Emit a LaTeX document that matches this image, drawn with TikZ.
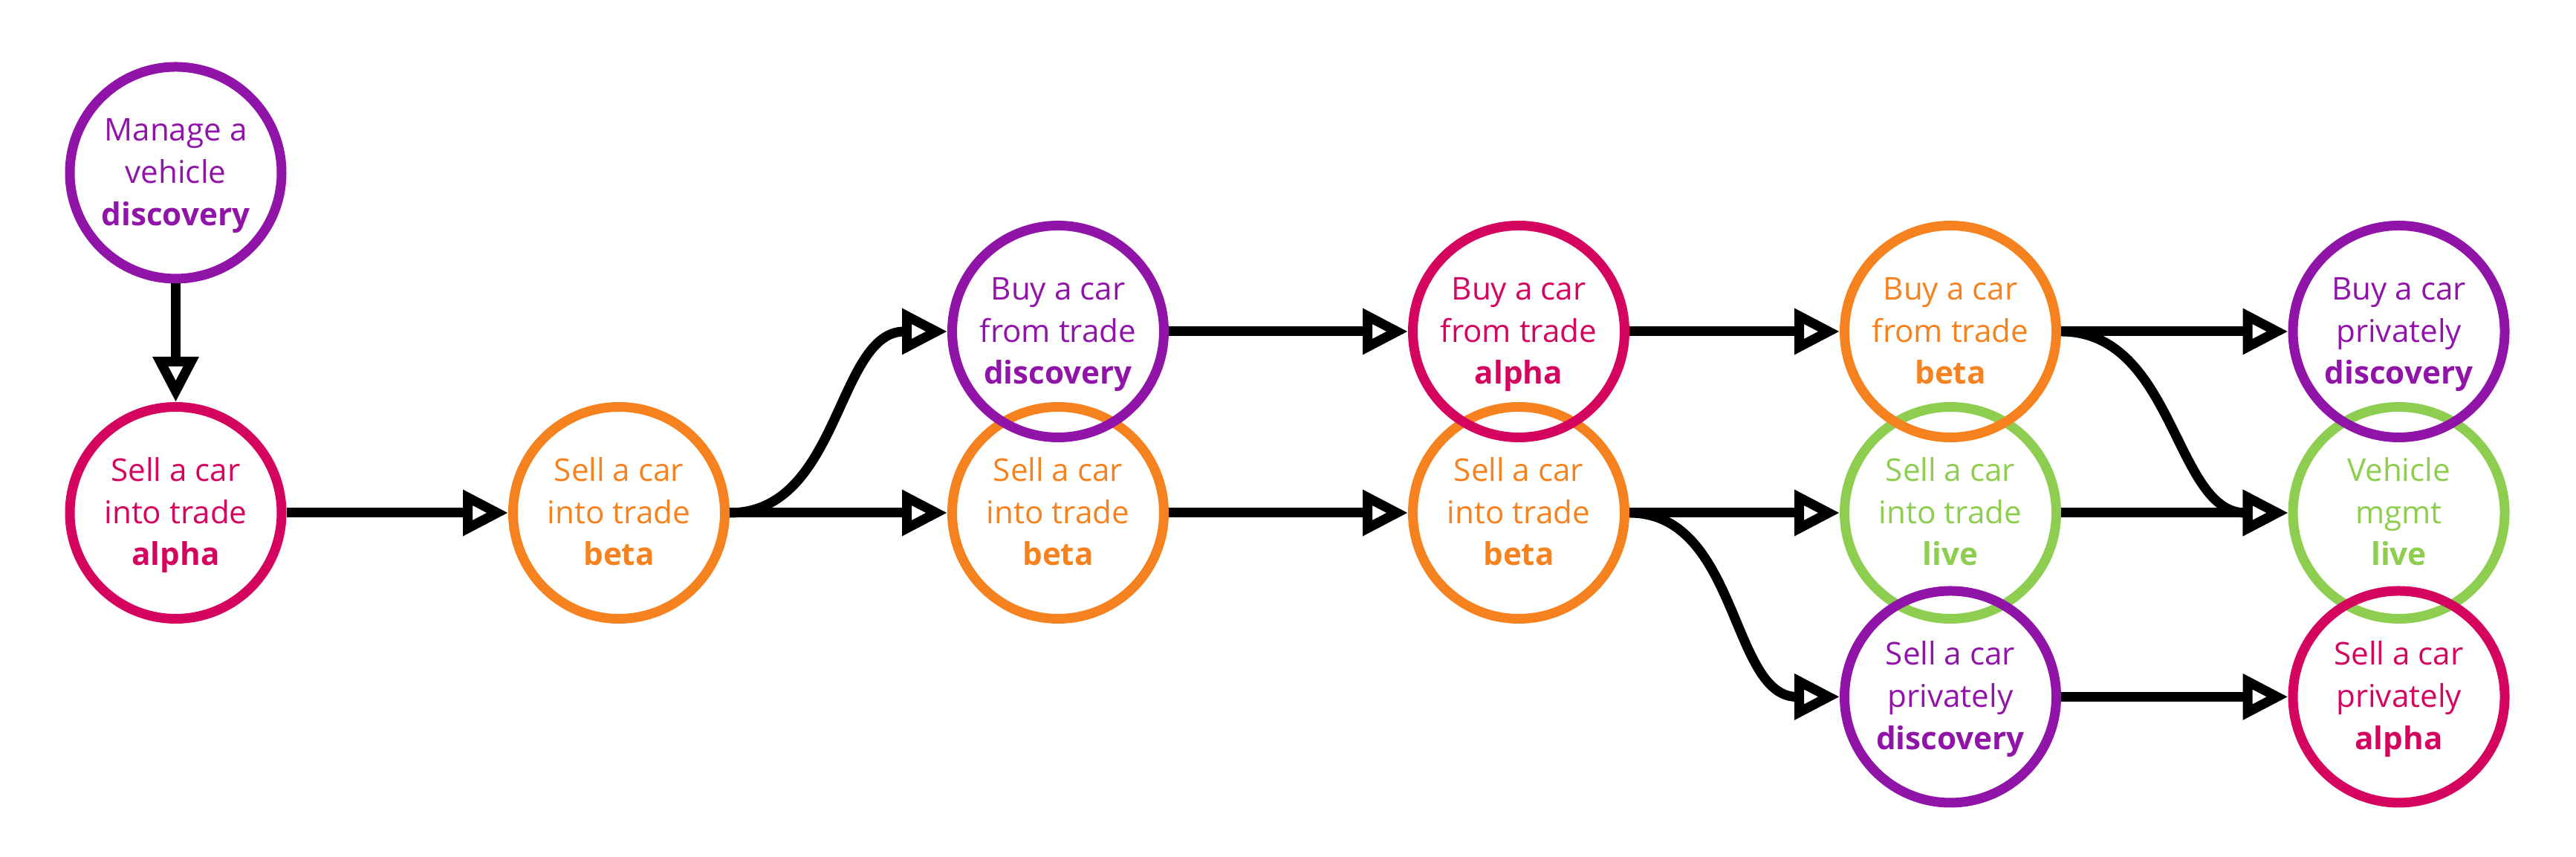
\documentclass[tikz,border=0pt]{standalone}
\usepackage{fontspec}
\setmainfont{Open Sans}
\usetikzlibrary{arrows.meta}
\definecolor{cpurple}{HTML}{9114A9}
\definecolor{cmagenta}{HTML}{D5045F}
\definecolor{corange}{HTML}{F6821F}
\definecolor{cgreen}{HTML}{8DCD50}
\newcommand\topstrut{\rule{0pt}{12.5pt}}
\newcommand\botstrut{\rule[-4.5pt]{0pt}{4.5pt}}
\newcommand\lbl[3]{\topstrut #1\\#2\\\textbf{#3}\botstrut}
\tikzset{
  stage/.style={circle, draw, line width=0.13cm, minimum size=2.85cm, inner sep=0pt,
    align=center, font=\fontsize{12pt}{16.2pt}\selectfont},
  pstage/.style={stage, draw=cpurple, text=cpurple},
  mstage/.style={stage, draw=cmagenta, text=cmagenta},
  ostage/.style={stage, draw=corange, text=corange},
  gstage/.style={stage, draw=cgreen, text=cgreen},
  conn/.style={line width=0.13cm, draw=black, -{Triangle[open,length=0.61cm,width=0.59cm]}},
}
\begin{document}
\begin{tikzpicture}
\useasboundingbox (0,0) rectangle (34.67,11.53);
% middle row first
\node[mstage] (A)  at (2.365,4.63) {\lbl{Sell a car}{into trade}{alpha}};
\node[ostage] (B)  at (8.33,4.63)  {\lbl{Sell a car}{into trade}{beta}};
\node[ostage] (C2) at (14.24,4.63) {\lbl{Sell a car}{into trade}{beta}};
\node[ostage] (D2) at (20.44,4.63) {\lbl{Sell a car}{into trade}{beta}};
\node[gstage] (E2) at (26.25,4.63) {\lbl{Sell a car}{into trade}{live}};
\node[gstage] (F2) at (32.285,4.63) {\lbl{Vehicle}{mgmt}{live}};
% top
\node[pstage] (M)  at (2.365,9.205) {\lbl{Manage a}{vehicle}{discovery}};
\node[pstage] (C1) at (14.24,7.07) {\lbl{Buy a car}{from trade}{discovery}};
\node[mstage] (D1) at (20.44,7.07) {\lbl{Buy a car}{from trade}{alpha}};
\node[ostage] (E1) at (26.25,7.07) {\lbl{Buy a car}{from trade}{beta}};
\node[pstage] (F1) at (32.285,7.07) {\lbl{Buy a car}{privately}{discovery}};
% bottom
\node[pstage] (E3) at (26.25,2.155) {\lbl{Sell a car}{privately}{discovery}};
\node[mstage] (F3) at (32.285,2.155) {\lbl{Sell a car}{privately}{alpha}};
% connectors
\draw[conn] (M) -- (A);
\draw[conn] (A) -- (B);
\draw[conn] (B.east) to[out=0,in=180] (C1.west);
\draw[conn] (B) -- (C2);
\draw[conn] (C1) -- (D1);
\draw[conn] (C2) -- (D2);
\draw[conn] (D1) -- (E1);
\draw[conn] (D2) -- (E2);
\draw[conn] (D2.east) to[out=0,in=180] (E3.west);
\draw[conn] (E1) -- (F1);
\draw[conn] (E1.east) to[out=0,in=180] (F2.west);
\draw[conn] (E2) -- (F2);
\draw[conn] (E3) -- (F3);
\end{tikzpicture}
\end{document}
